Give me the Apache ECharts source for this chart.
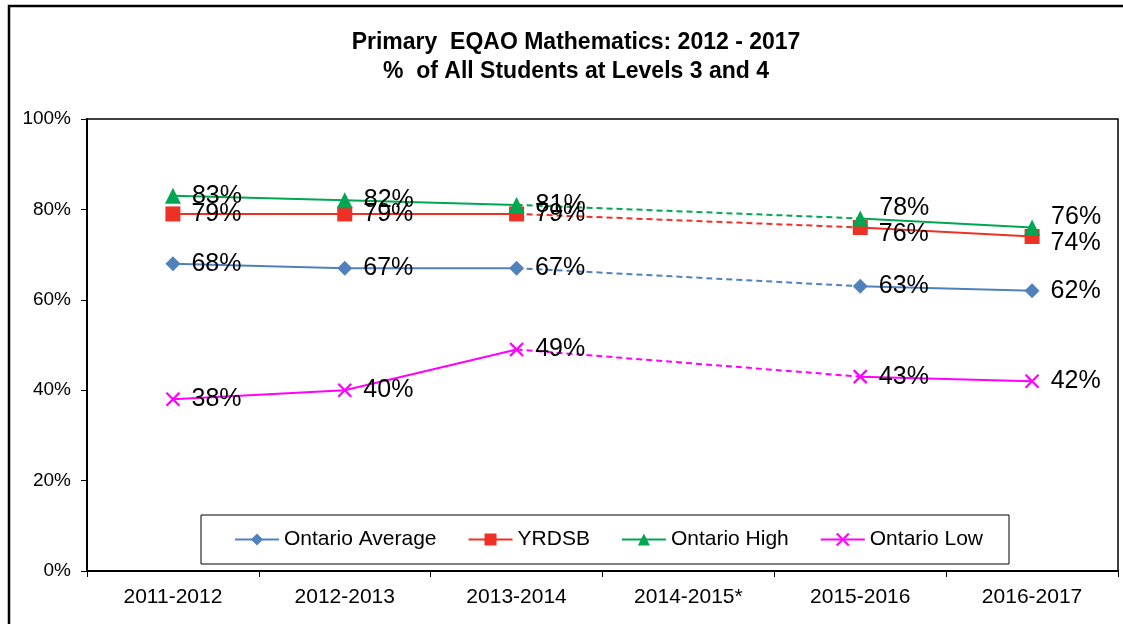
<!DOCTYPE html>
<html>
<head>
<meta charset="utf-8">
<script src="https://cdn.jsdelivr.net/npm/echarts@6/dist/echarts.min.js"></script>
<style>
  html, body { margin: 0; padding: 0; background: #fff; }
  #main { width: 1123px; height: 624px; }
</style>
</head>
<body>
<div id="main"></div>
<script>
// chart values (2014-2015 has no data)
let years = ['2011-2012', '2012-2013', '2013-2014', '2014-2015*', '2015-2016', '2016-2017'];
let ontarioAverage = [68, 67, 67, null, 63, 62];
let yrdsb = [79, 79, 79, null, 76, 74];
let ontarioHigh = [83, 82, 81, null, 78, 76];
let ontarioLow = [38, 40, 49, null, 43, 42];
let yTicks = [0, 20, 40, 60, 80, 100];

const FONT = '"Liberation Sans", Arial, sans-serif';
const crossPath = 'path://M0,0 L10,10 M10,0 L0,10';

// label nudges where labels would overlap
function labelFor(name, i) {
    if (name === 'Ontario High' && i >= 4) return { offset: [0, -10] };
    if (name === 'YRDSB' && i >= 4) return { offset: [0, 7] };
    return {};
}

function mainSeries(name, values, color, symbol, size) {
    let isCross = symbol === crossPath;
    return {
        name: name,
        type: 'line',
        data: values.map((v, i) => ({ value: v, label: labelFor(name, i) })),
        connectNulls: false,
        symbol: symbol,
        symbolSize: size,
        z: 3,
        lineStyle: { color: color, width: 2 },
        itemStyle: isCross
            ? { color: color, borderColor: color, borderWidth: 2.2 }
            : { color: color, borderWidth: 0 },
        label: {
            show: true,
            position: 'right',
            distance: 11,
            formatter: (p) => p.value + '%',
            color: '#000',
            fontFamily: FONT,
            fontSize: 25
        },
        emphasis: { disabled: true }
    };
}

// dashed bridge over the missing year
function bridgeSeries(name, values, color) {
    return {
        name: name + ' bridge',
        type: 'line',
        data: values.map((v, i) => (i === 2 || i === 4 ? v : null)),
        connectNulls: true,
        symbol: 'none',
        z: 2,
        lineStyle: { color: color, width: 2, type: [6, 4] },
        silent: true
    };
}

var myChart = echarts.init(document.getElementById('main'));

var option = {
    backgroundColor: '#fff',
    animation: false,
    graphic: [{
        type: 'rect',
        shape: { x: 9, y: 6, width: 1200, height: 700 },
        style: { fill: 'none', stroke: '#000', lineWidth: 2.5 },
        z: 100
    }],
    title: {
        text: 'Primary  EQAO Mathematics: 2012 - 2017\n%  of All Students at Levels 3 and 4',
        left: 571,
        textAlign: 'center',
        top: 23,
        textStyle: {
            fontFamily: FONT,
            fontWeight: 'bold',
            fontSize: 23,
            lineHeight: 29,
            color: '#000'
        }
    },
    grid: {
        left: 87,
        right: 5,
        top: 119,
        bottom: 53,
        show: true,
        borderColor: '#000',
        borderWidth: 1.5
    },
    legend: {
        data: ['Ontario Average', 'YRDSB', 'Ontario High', 'Ontario Low'],
        left: 201,
        top: 515,
        orient: 'horizontal',
        borderColor: '#000',
        borderWidth: 1,
        padding: [14, 26, 14, 33],
        itemGap: 31,
        itemWidth: 44,
        itemHeight: 15,
        textStyle: { fontFamily: FONT, fontSize: 21, color: '#000' },
        backgroundColor: '#fff'
    },
    xAxis: {
        type: 'category',
        data: years,
        boundaryGap: true,
        axisLine: { lineStyle: { color: '#000', width: 2 } },
        axisTick: { show: true, inside: false, length: 6, lineStyle: { color: '#000', width: 1 } },
        axisLabel: { fontFamily: FONT, fontSize: 21, color: '#000', margin: 16 }
    },
    yAxis: {
        type: 'value',
        min: yTicks[0],
        max: yTicks[yTicks.length - 1],
        interval: 20,
        splitLine: { show: false },
        axisLine: { show: true, lineStyle: { color: '#000', width: 2 } },
        axisTick: { show: true, length: 6, lineStyle: { color: '#000', width: 1 } },
        axisLabel: {
            fontFamily: FONT,
            fontSize: 19,
            color: '#000',
            margin: 16,
            formatter: '{value}%'
        }
    },
    series: [
        bridgeSeries('Ontario Average', ontarioAverage, '#4F81BD'),
        bridgeSeries('YRDSB', yrdsb, '#EE3124'),
        bridgeSeries('Ontario High', ontarioHigh, '#00A651'),
        bridgeSeries('Ontario Low', ontarioLow, '#FF00FF'),
        mainSeries('Ontario Average', ontarioAverage, '#4F81BD', 'diamond', 15),
        mainSeries('YRDSB', yrdsb, '#EE3124', 'rect', 15),
        mainSeries('Ontario High', ontarioHigh, '#00A651', 'triangle', 16),
        mainSeries('Ontario Low', ontarioLow, '#FF00FF', crossPath, 13)
    ]
};

myChart.setOption(option);
</script>
</body>
</html>
